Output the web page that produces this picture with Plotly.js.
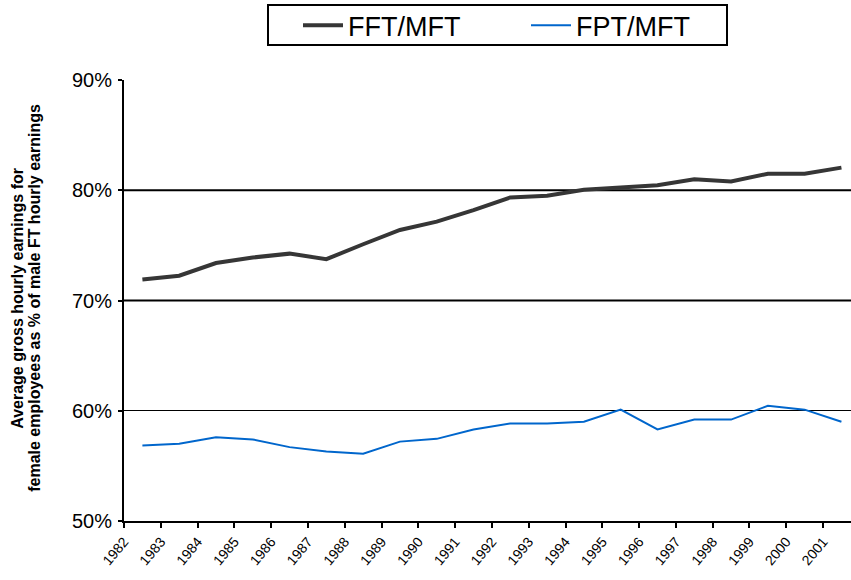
<!DOCTYPE html>
<html>
<head>
<meta charset="utf-8">
<script src="https://cdn.plot.ly/plotly-3.0.1.min.js"></script>
<style>html,body{margin:0;padding:0;background:#fff;overflow:hidden;}</style>
</head>
<body>
<div id="chart" style="width:851px;height:580px;"></div>
<script>
const years = ["1982","1983","1984","1985","1986","1987","1988","1989","1990","1991",
               "1992","1993","1994","1995","1996","1997","1998","1999","2000","2001"];
const fftMft = [71.9, 72.25, 73.4, 73.9, 74.25, 73.75, 75.1, 76.4, 77.15, 78.2,
                79.35, 79.5, 80.05, 80.25, 80.45, 81.0, 80.8, 81.5, 81.5, 82.05];
const fptMft = [56.85, 57.0, 57.6, 57.4, 56.7, 56.3, 56.1, 57.2, 57.45, 58.3,
                58.85, 58.85, 59.0, 60.1, 58.3, 59.2, 59.2, 60.45, 60.1, 59.0];
const seriesNames = ["FFT/MFT", "FPT/MFT"];
const yTicks = [50, 60, 70, 80, 90];
const yTitleLines = ["Average gross hourly earnings for",
                     "female employees as % of male FT hourly earnings"];

const idx = years.map((_, i) => i);
const font = "Liberation Sans, Arial, sans-serif";

const traces = [
  {x: idx, y: fftMft, name: seriesNames[0], type: "scatter", mode: "lines",
   line: {color: "#363636", width: 4}},
  {x: idx, y: fptMft, name: seriesNames[1], type: "scatter", mode: "lines",
   line: {color: "#0066cc", width: 2}}
];

const layout = {
  width: 851, height: 580,
  margin: {l: 124, r: 0, t: 80, b: 59},
  paper_bgcolor: "#fff", plot_bgcolor: "#fff",
  font: {family: font, color: "#000"},
  showlegend: true,
  legend: {
    orientation: "h", xref: "container", yref: "container",
    x: 298 / 851, xanchor: "left", y: 0.998, yanchor: "top",
    borderwidth: 0, bgcolor: "rgba(0,0,0,0)",
    font: {family: font, size: 27, color: "#000"},
    entrywidth: 173, itemwidth: 40
  },
  xaxis: {
    range: [-0.5, 19.26], showgrid: false, zeroline: false,
    showline: true, linecolor: "#000", linewidth: 2,
    tickmode: "array", tickvals: idx.map(i => i - 0.5), ticktext: years,
    ticks: "outside", ticklen: 5, tickwidth: 2, tickcolor: "#000",
    tickangle: -50, tickfont: {family: font, size: 14, color: "#000"}
  },
  yaxis: {
    range: [50, 90], tickmode: "array", tickvals: yTicks,
    ticktext: yTicks.map(v => v + "%"),
    showgrid: true, gridcolor: "#000", gridwidth: 1, zeroline: false,
    showline: true, linecolor: "#000", linewidth: 2,
    ticks: "outside", ticklen: 4, tickwidth: 2, tickcolor: "#000",
    ticklabelstandoff: 2,
    tickfont: {family: font, size: 20, color: "#000"}
  },
  shapes: [70, 80].map(v => ({
    type: "line", xref: "paper", yref: "y", x0: 0, x1: 1, y0: v, y1: v,
    line: {color: "#000", width: 2}, layer: "below"
  })).concat([{
    type: "rect", xref: "paper", yref: "paper",
    x0: (268 - 124) / 727, x1: (727 - 124) / 727,
    y0: (521 - 45) / 441, y1: (521 - 5) / 441,
    line: {color: "#000", width: 2}, fillcolor: "rgba(0,0,0,0)"
  }]),
  annotations: yTitleLines.map((t, i) => ({
    text: "<b>" + t + "</b>", xref: "paper", yref: "paper",
    x: ((i === 0 ? 17.5 : 34.5) - 124) / 727, y: 0.505,
    xanchor: "center", yanchor: "middle",
    textangle: -90, showarrow: false,
    font: {family: font, size: 16, color: "#000"}
  }))
};

Plotly.newPlot("chart", traces, layout, {displayModeBar: false, staticPlot: true});
</script>
</body>
</html>
